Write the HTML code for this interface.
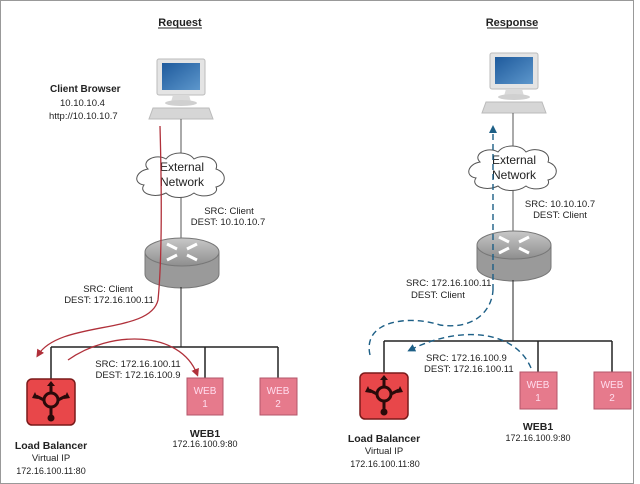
<!DOCTYPE html>
<html><head><meta charset="utf-8"><style>
html,body{margin:0;padding:0;background:#fff}
svg{display:block}
text{font-family:"Liberation Sans",Arial,sans-serif;fill:#222}
</style></head><body>
<svg width="640" height="484" viewBox="0 0 640 484" xmlns="http://www.w3.org/2000/svg">
<defs>
<linearGradient id="scr" x1="0" y1="0" x2="1" y2="1"><stop offset="0" stop-color="#1e5a9c"/><stop offset="1" stop-color="#5d97cc"/></linearGradient>
<linearGradient id="rt" x1="0" y1="0" x2="0" y2="1"><stop offset="0" stop-color="#c8c8c8"/><stop offset="1" stop-color="#8e8e8e"/></linearGradient>
<marker id="ar" markerWidth="8" markerHeight="8" refX="5" refY="4" orient="auto" markerUnits="userSpaceOnUse"><path d="M0,0 L8,4 L0,8 z" fill="#b0303a"/></marker>
<marker id="ab" markerWidth="8" markerHeight="8" refX="5" refY="4" orient="auto" markerUnits="userSpaceOnUse"><path d="M0,0 L8,4 L0,8 z" fill="#1d5f86"/></marker>
<g id="pc">
<rect x="0" y="0" width="48" height="36" rx="2" fill="#e4e4e4" stroke="#bbb"/>
<rect x="5" y="4" width="38" height="27" fill="url(#scr)"/>
<path d="M16,36 L32,36 L34,43 L14,43 z" fill="#dadada"/>
<ellipse cx="24" cy="44" rx="16" ry="3" fill="#d0d0d0"/>
<path d="M-4,49 L52,49 L56,60 L-8,60 z" fill="#d6d6d6" stroke="#bbb"/>
</g>
<g id="cloud">
<path d="M12,14 C4,6 20,-2 30,4 C36,-4 52,-4 58,4 C68,-2 84,4 80,14 C92,18 90,30 80,32 C84,40 66,44 58,38 C50,44 36,44 30,38 C18,44 2,38 8,30 C-4,28 0,16 12,14 z" fill="#fff" stroke="#555" stroke-width="1"/>
</g>
<g id="router">
<path d="M0,14 L0,36 A37,14 0 0 0 74,36 L74,14" fill="#9a9a9a" stroke="#777"/>
<ellipse cx="37" cy="14" rx="37" ry="14" fill="url(#rt)" stroke="#777"/>
<path d="M22,6 L32,11 M52,6 L42,11 M22,22 L32,17 M52,22 L42,17" stroke="#fff" stroke-width="3"/>
</g>
<g id="lb">
<rect x="0" y="0" width="48" height="46" rx="5" fill="#e8474a" stroke="#7a1a1a" stroke-width="1.5"/>
<circle cx="24" cy="21" r="7" fill="none" stroke="#2a0a0a" stroke-width="3"/>
<path d="M24,14 L24,6 M17,21 L9,17 M31,21 L39,17 M24,28 L24,37" stroke="#2a0a0a" stroke-width="3"/>
<path d="M20,7 L24,2 L28,7 z M8,13 L5,19 L11,20 z M40,13 L43,19 L37,20 z" fill="#2a0a0a"/>
<circle cx="24" cy="39" r="3.5" fill="#2a0a0a"/>
</g>
</defs>
<rect x="0.5" y="0.5" width="633" height="483" fill="none" stroke="#999"/>

<!-- LEFT -->
<text x="180" y="26" font-size="11" font-weight="bold" text-anchor="middle">Request</text>
<line x1="158" y1="28" x2="202" y2="28" stroke="#222"/>
<use href="#pc" x="157" y="59"/>
<line x1="181" y1="119" x2="181" y2="155" stroke="#555"/>
<use href="#cloud" x="136" y="155"/>
<text x="182" y="171" font-size="12" text-anchor="middle">External</text>
<text x="182" y="186" font-size="12" text-anchor="middle">Network</text>
<line x1="181" y1="197" x2="181" y2="240" stroke="#555"/>
<text x="229" y="214" font-size="9.5" text-anchor="middle">SRC: Client</text>
<text x="228" y="225" font-size="9.5" text-anchor="middle">DEST: 10.10.10.7</text>
<use href="#router" x="145" y="238"/>
<line x1="181" y1="287" x2="181" y2="347" stroke="#222"/>
<line x1="51" y1="347" x2="278" y2="347" stroke="#222" stroke-width="1.5"/>
<line x1="51" y1="347" x2="51" y2="380" stroke="#222" stroke-width="1.5"/>
<line x1="205" y1="347" x2="205" y2="378" stroke="#222" stroke-width="1.5"/>
<line x1="278" y1="347" x2="278" y2="378" stroke="#222" stroke-width="1.5"/>
<use href="#lb" x="27" y="379"/>
<rect x="187" y="378" width="36" height="37" fill="#e67a8c" stroke="#b3556a"/>
<text x="205" y="394" font-size="10" fill="#fff" text-anchor="middle" style="fill:#fde">WEB</text>
<text x="205" y="407" font-size="10" text-anchor="middle" style="fill:#fde">1</text>
<rect x="260" y="378" width="37" height="37" fill="#e67a8c" stroke="#b3556a"/>
<text x="278" y="394" font-size="10" text-anchor="middle" style="fill:#fde">WEB</text>
<text x="278" y="407" font-size="10" text-anchor="middle" style="fill:#fde">2</text>
<text x="51" y="449" font-size="10.5" font-weight="bold" text-anchor="middle">Load Balancer</text>
<text x="51" y="461" font-size="9.5" text-anchor="middle">Virtual IP</text>
<text x="51" y="474" font-size="9" text-anchor="middle">172.16.100.11:80</text>
<text x="205" y="437" font-size="10.5" font-weight="bold" text-anchor="middle">WEB1</text>
<text x="205" y="447" font-size="9" text-anchor="middle">172.16.100.9:80</text>
<text x="50" y="92" font-size="10" font-weight="bold">Client Browser</text>
<text x="60" y="106" font-size="9.5">10.10.10.4</text>
<text x="49" y="119" font-size="9.5">http://10.10.10.7</text>
<text x="108" y="292" font-size="9.5" text-anchor="middle">SRC: Client</text>
<text x="109" y="303" font-size="9.5" text-anchor="middle">DEST: 172.16.100.11</text>
<text x="138" y="367" font-size="9.5" text-anchor="middle">SRC: 172.16.100.11</text>
<text x="138" y="378" font-size="9.5" text-anchor="middle">DEST: 172.16.100.9</text>
<path d="M160,126 C162,200 162,260 158,300 C150,335 60,320 38,355" fill="none" stroke="#b0303a" stroke-width="1.3" marker-end="url(#ar)"/>
<path d="M68,360 C110,330 180,330 197,374" fill="none" stroke="#b0303a" stroke-width="1.3" marker-end="url(#ar)"/>

<!-- RIGHT -->
<text x="512" y="26" font-size="11" font-weight="bold" text-anchor="middle">Response</text>
<line x1="487" y1="28" x2="538" y2="28" stroke="#222"/>
<use href="#pc" x="490" y="53"/>
<line x1="513" y1="113" x2="513" y2="148" stroke="#555"/>
<use href="#cloud" x="468" y="148"/>
<text x="514" y="164" font-size="12" text-anchor="middle">External</text>
<text x="514" y="179" font-size="12" text-anchor="middle">Network</text>
<line x1="513" y1="190" x2="513" y2="233" stroke="#555"/>
<text x="560" y="207" font-size="9.5" text-anchor="middle">SRC: 10.10.10.7</text>
<text x="560" y="218" font-size="9.5" text-anchor="middle">DEST: Client</text>
<use href="#router" x="477" y="231"/>
<line x1="513" y1="280" x2="513" y2="341" stroke="#222"/>
<line x1="384" y1="341" x2="612" y2="341" stroke="#222" stroke-width="1.5"/>
<line x1="384" y1="341" x2="384" y2="373" stroke="#222" stroke-width="1.5"/>
<line x1="538" y1="341" x2="538" y2="372" stroke="#222" stroke-width="1.5"/>
<line x1="612" y1="341" x2="612" y2="372" stroke="#222" stroke-width="1.5"/>
<use href="#lb" x="360" y="373"/>
<rect x="520" y="372" width="37" height="37" fill="#e67a8c" stroke="#b3556a"/>
<text x="538" y="388" font-size="10" text-anchor="middle" style="fill:#fde">WEB</text>
<text x="538" y="401" font-size="10" text-anchor="middle" style="fill:#fde">1</text>
<rect x="594" y="372" width="37" height="37" fill="#e67a8c" stroke="#b3556a"/>
<text x="612" y="388" font-size="10" text-anchor="middle" style="fill:#fde">WEB</text>
<text x="612" y="401" font-size="10" text-anchor="middle" style="fill:#fde">2</text>
<text x="384" y="442" font-size="10.5" font-weight="bold" text-anchor="middle">Load Balancer</text>
<text x="384" y="454" font-size="9.5" text-anchor="middle">Virtual IP</text>
<text x="385" y="467" font-size="9" text-anchor="middle">172.16.100.11:80</text>
<text x="538" y="430" font-size="10.5" font-weight="bold" text-anchor="middle">WEB1</text>
<text x="538" y="441" font-size="9" text-anchor="middle">172.16.100.9:80</text>
<text x="406" y="286" font-size="9.5">SRC: 172.16.100.11</text>
<text x="411" y="298" font-size="9.5">DEST: Client</text>
<text x="426" y="361" font-size="9.5">SRC:  172.16.100.9</text>
<text x="424" y="372" font-size="9.5">DEST: 172.16.100.11</text>
<path d="M493,290 L493,128" fill="none" stroke="#1d5f86" stroke-width="1.4" stroke-dasharray="6,4" marker-end="url(#ab)"/>
<path d="M370,355 C362,320 410,315 440,325 C475,330 492,310 493,290" fill="none" stroke="#1d5f86" stroke-width="1.4" stroke-dasharray="6,4"/>
<path d="M531,368 C515,330 460,325 410,350" fill="none" stroke="#1d5f86" stroke-width="1.4" stroke-dasharray="6,4" marker-end="url(#ab)"/>
</svg>
</body></html>
